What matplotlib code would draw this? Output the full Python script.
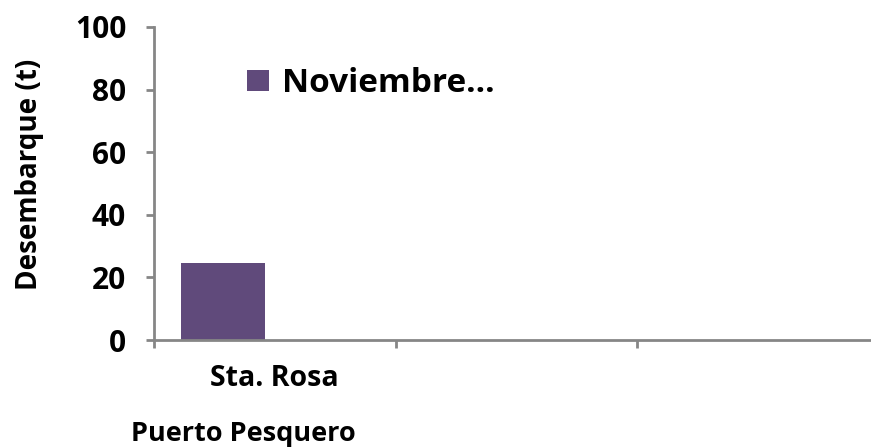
import matplotlib
matplotlib.use("Agg")
import matplotlib.pyplot as plt
import numpy as np

# datos
puertos = ["Sta. Rosa", "", ""]
desembarque = [24.6]          # solo Sta. Rosa tiene valor
serie = "Noviembre..."
yticks = [0, 20, 40, 60, 80, 100]

plt.rcParams['font.family'] = ['Open Sans', 'DejaVu Sans']
plt.rcParams['font.weight'] = 'bold'

W, H = 871, 447
fig = plt.figure(figsize=(W / 100, H / 100), dpi=100)
ax = fig.add_axes([154 / W, 1 - 340 / H, 724.5 / W, 313 / H])

gris = '#868686'
morado = '#604a7b'

# barra (desplazada como en excel con varias series)
x = np.arange(len(desembarque))
ax.bar(x - 0.214, desembarque, width=0.348, color=morado, label=serie, zorder=2)

ax.set_xlim(-0.5, len(puertos) - 0.5)
ax.set_ylim(0, 100)
ax.set_yticks(yticks)

# ticks mayores en los limites de categoria, etiquetas en el centro
ax.set_xticks(np.arange(len(puertos) + 1) - 0.5)
ax.set_xticklabels([])
ax.set_xticks(np.arange(len(puertos)), minor=True)
ax.set_xticklabels(puertos, minor=True)

for s in ['top', 'right']:
    ax.spines[s].set_visible(False)
for s in ['left', 'bottom']:
    ax.spines[s].set_color(gris)
    ax.spines[s].set_linewidth(2.0)
    ax.spines[s].set_zorder(3)

ax.tick_params(axis='y', which='major', direction='out', length=6, width=2,
               color=gris, pad=14, labelsize=21.5)
ax.tick_params(axis='x', which='major', direction='out', length=6, width=2,
               color=gris)
ax.tick_params(axis='x', which='minor', length=0, pad=17, labelsize=20.5)
for t in ax.get_yticklabels() + ax.get_xticklabels(minor=True):
    t.set_fontweight('bold')

ax.set_ylabel("Desembarque (t)", fontsize=20, fontweight='bold', va='center')
ax.yaxis.set_label_coords(-0.172, 0.53)
ax.set_xlabel("Puerto Pesquero", fontsize=19.5, fontweight='bold', va='center')
ax.xaxis.set_label_coords(0.124, -0.30)

ax.legend(loc='upper left', bbox_to_anchor=(247 / W, 1 - 67 / H),
          bbox_transform=fig.transFigure, frameon=False,
          prop={'size': 24, 'weight': 'bold'},
          handlelength=0.65, handleheight=0.6, handletextpad=0.4,
          borderpad=0, borderaxespad=0)

fig.savefig("out.png", dpi=100)
